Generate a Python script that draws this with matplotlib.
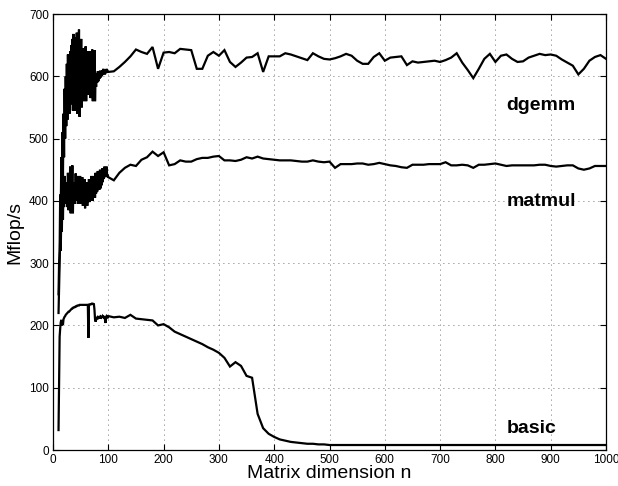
import numpy as np
import matplotlib
matplotlib.use("Agg")
import matplotlib.pyplot as plt

plt.rcParams['font.family'] = ['Liberation Sans', 'DejaVu Sans']

# matrix dimensions: fine grid 10..99, coarse grid 100..1000
n_fine = list(range(10, 100))
n_coarse = list(range(100, 1001, 10))

dgemm_fine = [250, 300, 320, 410, 380, 470, 420, 510, 440, 540,
              470, 580, 500, 600, 520, 620, 530, 635, 545, 610,
              540, 640, 555, 650, 560, 660, 545, 668, 580, 650,
              545, 662, 590, 670, 540, 655, 600, 675, 535, 640,
              590, 660, 550, 630, 600, 645, 560, 625, 600, 648,
              560, 630, 595, 640, 570, 610, 590, 640, 565, 620,
              600, 643, 560, 635, 590, 642, 560, 600, 583, 605,
              590, 608, 592, 605, 596, 609, 598, 606, 600, 610,
              602, 612, 604, 608, 603, 610, 605, 612, 606, 608]
dgemm_coarse = [607, 608, 615, 623, 632, 643, 639, 636, 647, 612,
                638, 639, 637, 644, 643, 642, 612, 612, 633, 639,
                633, 642, 623, 615, 622, 630, 631, 637, 607, 632,
                632, 632, 637, 635, 632, 629, 626, 637, 632, 628,
                627, 629, 632, 636, 633, 625, 620, 620, 631, 637,
                625, 630, 631, 632, 618, 624, 622, 623, 624, 625,
                623, 626, 630, 637, 622, 610, 597, 612, 628, 636,
                623, 633, 635, 628, 623, 624, 630, 633, 636, 634,
                635, 633, 627, 622, 617, 603, 612, 625, 631, 634,
                628]

matmul_fine = [220, 260, 300, 340, 320, 380, 350, 420, 370, 430,
               390, 440, 400, 420, 395, 430, 390, 445, 385, 430,
               395, 455, 380, 440, 400, 457, 380, 430, 405, 425,
               395, 444, 400, 430, 410, 440, 395, 425, 410, 440,
               395, 430, 400, 438, 392, 420, 405, 435, 388, 425,
               400, 430, 392, 420, 405, 435, 398, 428, 400, 440,
               405, 425, 400, 440, 410, 435, 405, 445, 412, 440,
               415, 448, 420, 442, 418, 450, 420, 446, 425, 452,
               430, 450, 435, 455, 438, 452, 440, 455, 438, 442]
matmul_coarse = [438, 433, 445, 453, 458, 456, 466, 470, 479, 472,
                 478, 457, 459, 465, 463, 463, 467, 469, 469, 471,
                 472, 465, 465, 464, 466, 470, 468, 471, 468, 467,
                 466, 465, 465, 465, 464, 463, 463, 465, 463, 462,
                 463, 453, 459, 459, 459, 460, 460, 458, 459, 461,
                 459, 457, 456, 454, 453, 458, 458, 458, 459, 459,
                 459, 462, 457, 457, 458, 457, 453, 458, 458, 459,
                 460, 458, 456, 457, 457, 457, 457, 457, 458, 458,
                 456, 455, 456, 457, 457, 452, 450, 452, 456, 456,
                 456]

basic_fine = [32, 110, 182, 195, 205, 209, 200, 205, 201, 210,
              212, 214, 215, 217, 218, 219, 220, 221, 222, 222,
              223, 224, 225, 226, 227, 227, 228, 229, 229, 229,
              230, 230, 231, 231, 232, 232, 232, 232, 233, 233,
              233, 233, 233, 233, 233, 233, 233, 233, 233, 233,
              233, 233, 233, 233, 180, 233, 233, 234, 234, 234,
              235, 235, 235, 234, 234, 225, 210, 206, 209, 212,
              213, 210, 214, 212, 215, 211, 214, 213, 215, 212,
              215, 214, 213, 215, 210, 204, 213, 215, 214, 213]
basic_coarse = [215, 213, 214, 212, 217, 211, 210, 209, 208, 200,
                202, 197, 190, 186, 182, 178, 174, 170, 165, 161,
                156, 148, 134, 141, 135, 119, 116, 58, 35, 26,
                21, 17, 15, 13, 12, 11, 10, 10, 9, 9,
                8, 8, 8, 8, 8, 8, 8, 8, 8, 8,
                8, 8, 8, 8, 8, 8, 8, 8, 8, 8,
                8, 8, 8, 8, 8, 8, 8, 8, 8, 8,
                8, 8, 8, 8, 8, 8, 8, 8, 8, 8,
                8, 8, 8, 8, 8, 8, 8, 8, 8, 8,
                8]

series_labels = ['dgemm', 'matmul', 'basic']
label_pos_n = [820, 820, 820]
label_pos_y = [546, 391, 28]

xticks = list(range(0, 1001, 100))
yticks = list(range(0, 701, 100))

n_all = np.array(n_fine + n_coarse)
series = [np.array(dgemm_fine + dgemm_coarse),
          np.array(matmul_fine + matmul_coarse),
          np.array(basic_fine + basic_coarse)]

fig = plt.figure(figsize=(6.18, 4.86), dpi=100)
ax = fig.add_axes([53/618, 36/486, 553/618, 436/486])

for s in series:
    ax.plot(n_all, s, color='black', lw=1.6, solid_joinstyle='miter')

for lab, xn, yv in zip(series_labels, label_pos_n, label_pos_y):
    ax.text(xn, yv, lab, fontsize=14, fontweight='bold', ha='left', va='baseline')

ax.set_xlim(0, 1000)
ax.set_ylim(0, 700)
ax.set_xticks(xticks)
ax.set_yticks(yticks)
ax.tick_params(direction='in', top=True, right=True, length=4, width=0.8, labelsize=8.5, pad=3)
ax.grid(True, color='#444444', linestyle=(0, (1, 5)), linewidth=0.6)
for sp in ax.spines.values():
    sp.set_linewidth(0.9)
ax.set_xlabel('Matrix dimension n', fontsize=14, labelpad=-1)
ax.set_ylabel('Mflop/s', fontsize=14, labelpad=4)

fig.savefig('out.png', dpi=100)
